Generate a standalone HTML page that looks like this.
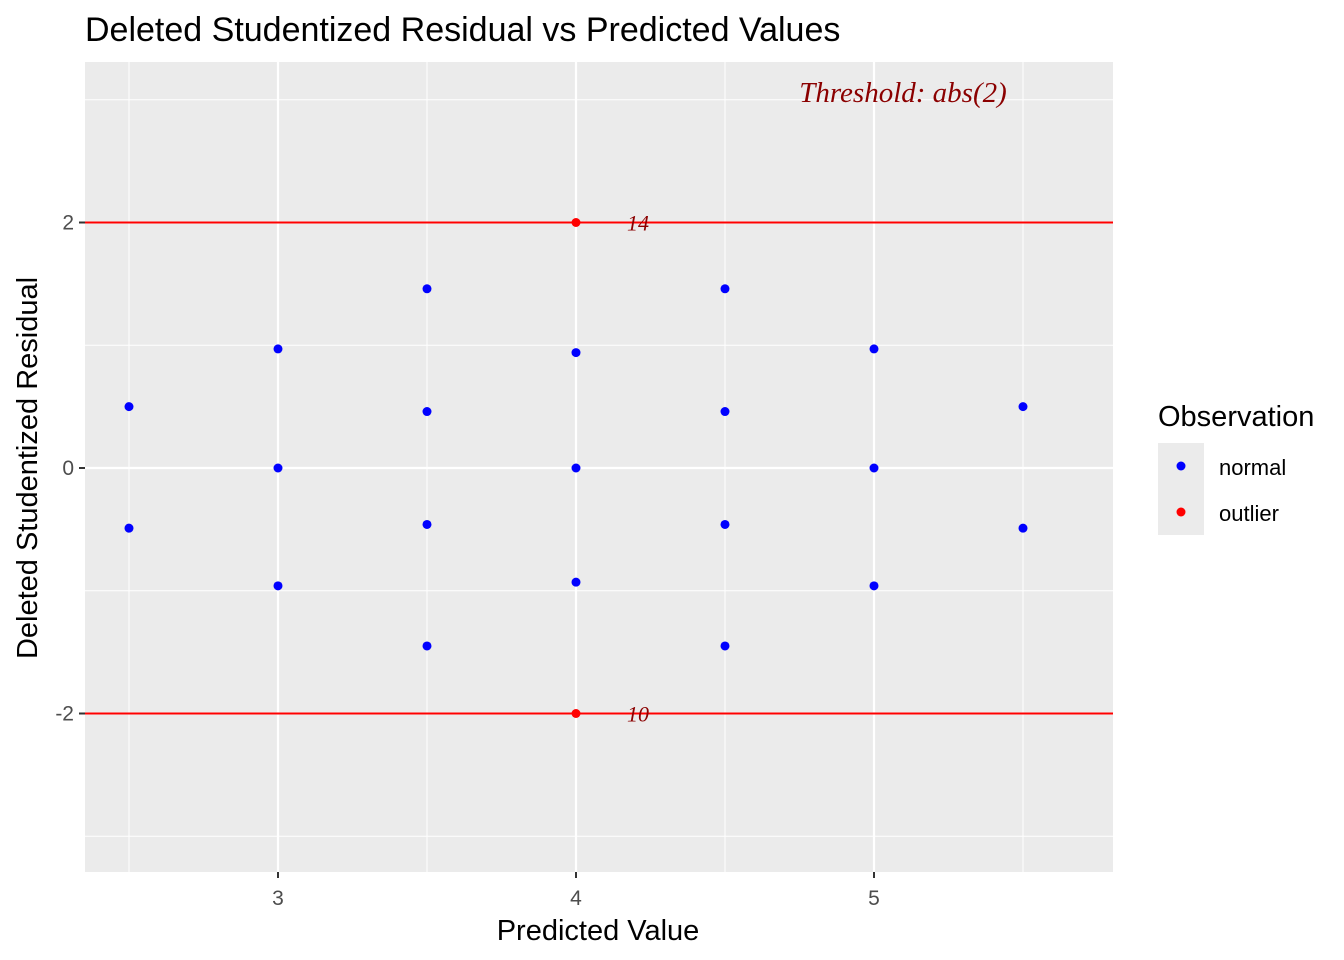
<!DOCTYPE html>
<html><head><meta charset="utf-8"><style>
body{margin:0;background:#fff;}
svg{display:block;font-family:"Liberation Sans",sans-serif;}
</style></head><body>
<svg id="chart" width="1344" height="960" xmlns="http://www.w3.org/2000/svg">
<text x="85" y="41" font-size="34" fill="#000">Deleted Studentized Residual vs Predicted Values</text>
<rect x="85" y="62" width="1028" height="810" fill="#ebebeb"/>
<g id="grid"></g>
<g id="marks"></g>
<text x="598" y="940" font-size="29" text-anchor="middle">Predicted Value</text>
<text transform="translate(37,468) rotate(-90)" font-size="29" text-anchor="middle">Deleted Studentized Residual</text>
<text x="903" y="102" font-size="29" font-style="italic" font-family="Liberation Serif,serif" fill="#8b0000" text-anchor="middle">Threshold: abs(2)</text>
<g>
<text x="1158" y="426" font-size="29">Observation</text>
<rect x="1158" y="443" width="46" height="92" fill="#ebebeb"/>
<circle cx="1181" cy="466" r="4.5" fill="#0000ff"/>
<circle cx="1181" cy="512" r="4.5" fill="#ff0000"/>
<text x="1219" y="475" font-size="22">normal</text>
<text x="1219" y="521" font-size="22">outlier</text>
</g>
</svg>
<script>
const xs = [2.5,2.5,3,3,3,3.5,3.5,3.5,3.5,4,4,4,4,4,4.5,4.5,4.5,4.5,5,5,5,5.5,5.5];
const ys = [0.5,-0.49,0.97,0,-0.96,1.46,0.46,-0.46,-1.45,2.0,0.94,0,-0.93,-2.0,1.46,0.46,-0.46,-1.45,0.97,0,-0.96,0.5,-0.49];
const groups = ["normal","normal","normal","normal","normal","normal","normal","normal","normal","outlier","normal","normal","normal","outlier","normal","normal","normal","normal","normal","normal","normal","normal","normal"];
const outlierLabels = ["14","10"];
const xTicks = [3,4,5];
const xMinor = [2.5,3.5,4.5,5.5];
const yTicks = [-2,0,2];
const yMinor = [-3,-1,1,3];
const threshold = 2;

const NS="http://www.w3.org/2000/svg";
const sx=v=>278+(v-3)*298;
const sy=v=>468-v*122.75;
const grid=document.getElementById('grid'), marks=document.getElementById('marks'), svg=document.getElementById('chart');
function mk(tag,attrs,parent){const e=document.createElementNS(NS,tag);for(const k in attrs)e.setAttribute(k,attrs[k]);parent.appendChild(e);return e;}
xMinor.forEach(v=>{const l=mk('line',{x1:sx(v),x2:sx(v),y1:62,y2:872,stroke:'#fff','stroke-width':1},grid);

});
yMinor.forEach(v=>{const l=mk('line',{x1:85,x2:1113,y1:sy(v),y2:sy(v),stroke:'#fff','stroke-width':1},grid);

});
xTicks.forEach(v=>{const l=mk('line',{x1:sx(v),x2:sx(v),y1:62,y2:872,stroke:'#fff','stroke-width':2.2},grid);


const t=mk('line',{x1:sx(v),x2:sx(v),y1:872,y2:878,stroke:'#333','stroke-width':2},svg);


const tx=mk('text',{x:sx(v),y:905,'font-size':21,fill:'#4d4d4d','text-anchor':'middle'},svg);tx.textContent=v;

});
yTicks.forEach(v=>{const l=mk('line',{x1:85,x2:1113,y1:sy(v),y2:sy(v),stroke:'#fff','stroke-width':2.2},grid);


const t=mk('line',{x1:79,x2:85,y1:sy(v),y2:sy(v),stroke:'#333','stroke-width':2},svg);


const tx=mk('text',{x:74,y:sy(v)+7,'font-size':21,fill:'#4d4d4d','text-anchor':'end'},svg);tx.textContent=v;

});
[threshold,-threshold].forEach(v=>{const l=mk('line',{x1:85,x2:1113,y1:sy(v),y2:sy(v),stroke:'#ff0000','stroke-width':2},marks);

});
let oi=0;
xs.forEach((x,i)=>{const out=groups[i]==='outlier';
const c=mk('circle',{cx:sx(x),cy:sy(ys[i]),r:4.5,fill:out?'#ff0000':'#0000ff'},marks);


if(out){const t=mk('text',{x:sx(x)+62,y:sy(ys[i])+8,'font-size':22,'font-style':'italic','font-family':'Liberation Serif,serif',fill:'#8b0000','text-anchor':'middle'},marks);
t.textContent=outlierLabels[oi++];

}});
</script>
</body></html>
